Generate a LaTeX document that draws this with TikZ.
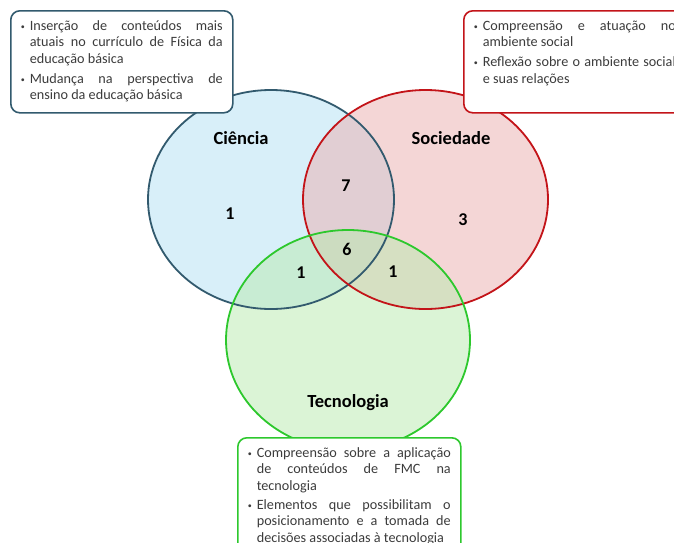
\documentclass[tikz,border=0pt]{standalone}
\usepackage{fontspec}
\setmainfont{Carlito}
\usetikzlibrary{positioning}
\definecolor{CienciaLine}{RGB}{50,90,110}
\definecolor{CienciaFill}{RGB}{179,225,245}
\definecolor{SociedadeLine}{RGB}{195,20,25}
\definecolor{SociedadeFill}{RGB}{235,175,175}
\definecolor{TecnoLine}{RGB}{45,200,45}
\definecolor{TecnoFill}{RGB}{185,235,175}
\definecolor{BoxText}{RGB}{60,60,60}
\newcommand{\bitem}[1]{\par\hangindent=9pt\hangafter=1\noindent
  \makebox[9pt][l]{\raisebox{1pt}{\fontsize{8}{8}\selectfont\textbullet}}#1}
\tikzset{
  setfill/.style={fill opacity=0.5, draw=none},
  setline/.style={line width=1.8pt},
  infobox/.style={draw, fill=white, line width=1.6pt, rounded corners=9pt,
                  inner xsep=10pt, inner ysep=10pt, text=BoxText,
                  font=\fontsize{14.2}{16.3}\selectfont},
  setlabel/.style={font=\fontsize{18.5}{18.5}\selectfont\bfseries, text=black},
  count/.style={font=\fontsize{18}{18}\selectfont\bfseries, text=black}
}

\begin{document}
\begin{tikzpicture}[x=1pt,y=-1pt]
\clip (0,0) rectangle (674,542);
\fill[white] (0,0) rectangle (674,542);
% conjuntos
\fill[setfill, fill=CienciaFill] (271,199.5) ellipse [x radius=123pt, y radius=109.5pt];
\fill[setfill, fill=SociedadeFill] (425.5,199.5) ellipse [x radius=122.5pt, y radius=109.5pt];
\fill[setfill, fill=TecnoFill] (348,340) ellipse [x radius=122pt, y radius=110pt];
\draw[setline, CienciaLine] (271,199.5) ellipse [x radius=123pt, y radius=109.5pt];
\draw[setline, SociedadeLine] (425.5,199.5) ellipse [x radius=122.5pt, y radius=109.5pt];
\draw[setline, TecnoLine] (348,340) ellipse [x radius=122pt, y radius=110pt];

\node[setlabel] (lblC) at (241,138) {Ciência};
\node[setlabel] (lblS) at (451,138) {Sociedade};
\node[setlabel] (lblT) at (348,403) {Tecnologia};

\node[count] (nC)   at (230,214) {1};
\node[count] (nCS)  at (346,186) {7};
\node[count] (nS)   at (463,220) {3};
\node[count] (nCST) at (347,249) {6};
\node[count] (nCT)  at (301,273) {1};
\node[count] (nST)  at (393,272) {1};

% caixas de texto
\node[infobox, draw=CienciaLine, anchor=north west] (boxC) at (10,10)
  {\parbox[c][82pt][t]{202pt}{\hyphenpenalty=10000\tolerance=9999%
   \bitem{Inserção de conteúdos mais\linebreak atuais no currículo de Física da\linebreak educação básica}\par\vspace{4pt}
   \bitem{Mudança na perspectiva de\linebreak ensino da educação básica}}};
\node[infobox, draw=SociedadeLine, anchor=north west] (boxS) at (463,10)
  {\parbox[c][82pt][t]{202pt}{\hyphenpenalty=10000\tolerance=9999%
   \bitem{Compreensão e atuação no\linebreak ambiente social}\par\vspace{4pt}
   \bitem{Reflexão sobre o ambiente social\linebreak e suas relações}}};
\node[infobox, draw=TecnoLine, anchor=north west] (boxT) at (237,437)
  {\parbox[c][100pt][t]{203pt}{\hyphenpenalty=10000\tolerance=9999%
   \bitem{Compreensão sobre a aplicação\linebreak de conteúdos de FMC na\linebreak tecnologia}\par\vspace{3pt}
   \bitem{Elementos que possibilitam o\linebreak posicionamento e a tomada de\linebreak decisões associadas à tecnologia}}};
\end{tikzpicture}
\end{document}
